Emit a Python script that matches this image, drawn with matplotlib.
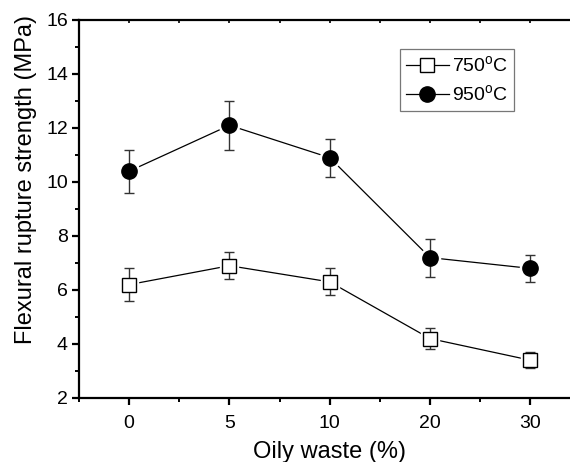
import numpy as np
import matplotlib
matplotlib.use("Agg")
import matplotlib.pyplot as plt
from matplotlib.ticker import MultipleLocator

plt.rcParams['font.family'] = ['Liberation Sans', 'DejaVu Sans']
plt.rcParams['mathtext.fontset'] = 'custom'
plt.rcParams['mathtext.rm'] = 'Liberation Sans'

## data
categories = ["0", "5", "10", "20", "30"]
s750 = [6.2, 6.9, 6.3, 4.2, 3.4]
s750_lo = [0.6, 0.5, 0.5, 0.4, 0.3]
s750_hi = [0.6, 0.5, 0.5, 0.4, 0.3]
s950 = [10.4, 12.1, 10.9, 7.2, 6.8]
s950_lo = [0.8, 0.9, 0.7, 0.7, 0.5]
s950_hi = [0.8, 0.9, 0.7, 0.7, 0.5]

x = np.arange(len(categories))

fig = plt.figure(figsize=(5.7, 4.62), dpi=100)
ax = fig.add_axes([79/570, 1-398/462, 501.5/570, 378/462])

# lines, then a white halo so they stop short of the markers
ax.plot(x, s750, color='black', lw=0.9, zorder=2)
ax.plot(x, s950, color='black', lw=0.9, zorder=2)
ax.plot(x, s750, 's', ms=13, color='white', mec='white', zorder=3)
ax.plot(x, s950, 'o', ms=14.5, color='white', mec='white', zorder=3)

ax.errorbar(x, s750, yerr=[s750_lo, s750_hi], fmt='none', ecolor='#333333',
            elinewidth=1, capsize=3.5, capthick=1, zorder=4)
ax.errorbar(x, s950, yerr=[s950_lo, s950_hi], fmt='none', ecolor='#333333',
            elinewidth=1, capsize=3.5, capthick=1, zorder=4)

ax.plot(x, s750, 's', ms=9.5, mfc='white', mec='black', mew=1, zorder=5)
ax.plot(x, s950, 'o', ms=11, mfc='black', mec='black', zorder=5)

# legend handles
h1, = ax.plot([], [], 's-', color='black', lw=0.9, ms=9.5, mfc='white', mec='black', mew=1)
h2, = ax.plot([], [], 'o-', color='black', lw=0.9, ms=11, mfc='black')
leg = ax.legend([h1, h2], [r"750$^\mathrm{o}$C", r"950$^\mathrm{o}$C"],
                loc='upper left', bbox_to_anchor=(321/501.5, 1-29/378),
                fontsize=14, frameon=True, fancybox=False, edgecolor='#555555',
                handlelength=2.2, handletextpad=0.2, borderpad=0.3,
                labelspacing=0.45, borderaxespad=0)
leg.get_frame().set_linewidth(0.9)

ax.set_xlim(-0.5, 4.5)
ax.set_ylim(2, 16)
ax.set_xticks(x)
ax.set_xticklabels(categories)
ax.xaxis.set_minor_locator(MultipleLocator(0.5))
ax.yaxis.set_major_locator(MultipleLocator(2))
ax.yaxis.set_minor_locator(MultipleLocator(1))

for s in ax.spines.values():
    s.set_linewidth(1.6)
ax.spines['right'].set_visible(False)

ax.tick_params(axis='both', which='major', direction='out', length=5, width=1.6,
               labelsize=14, pad=3)
ax.tick_params(axis='x', which='major', pad=7)
ax.tick_params(axis='both', which='minor', direction='out', length=3, width=1.4)

# small inward ticks on the top edge
top = ax.secondary_xaxis('top')
top.set_xticks(x)
top.xaxis.set_minor_locator(MultipleLocator(0.5))
top.tick_params(which='both', direction='in', length=2, width=1.2, labeltop=False)
top.spines['top'].set_visible(False)

ax.set_xlabel("Oily waste (%)", fontsize=17, labelpad=7)
ax.set_ylabel("Flexural rupture strength (MPa)", fontsize=17)
ax.yaxis.set_label_coords(-0.084, 0.577)

fig.savefig("out.png", dpi=100)
